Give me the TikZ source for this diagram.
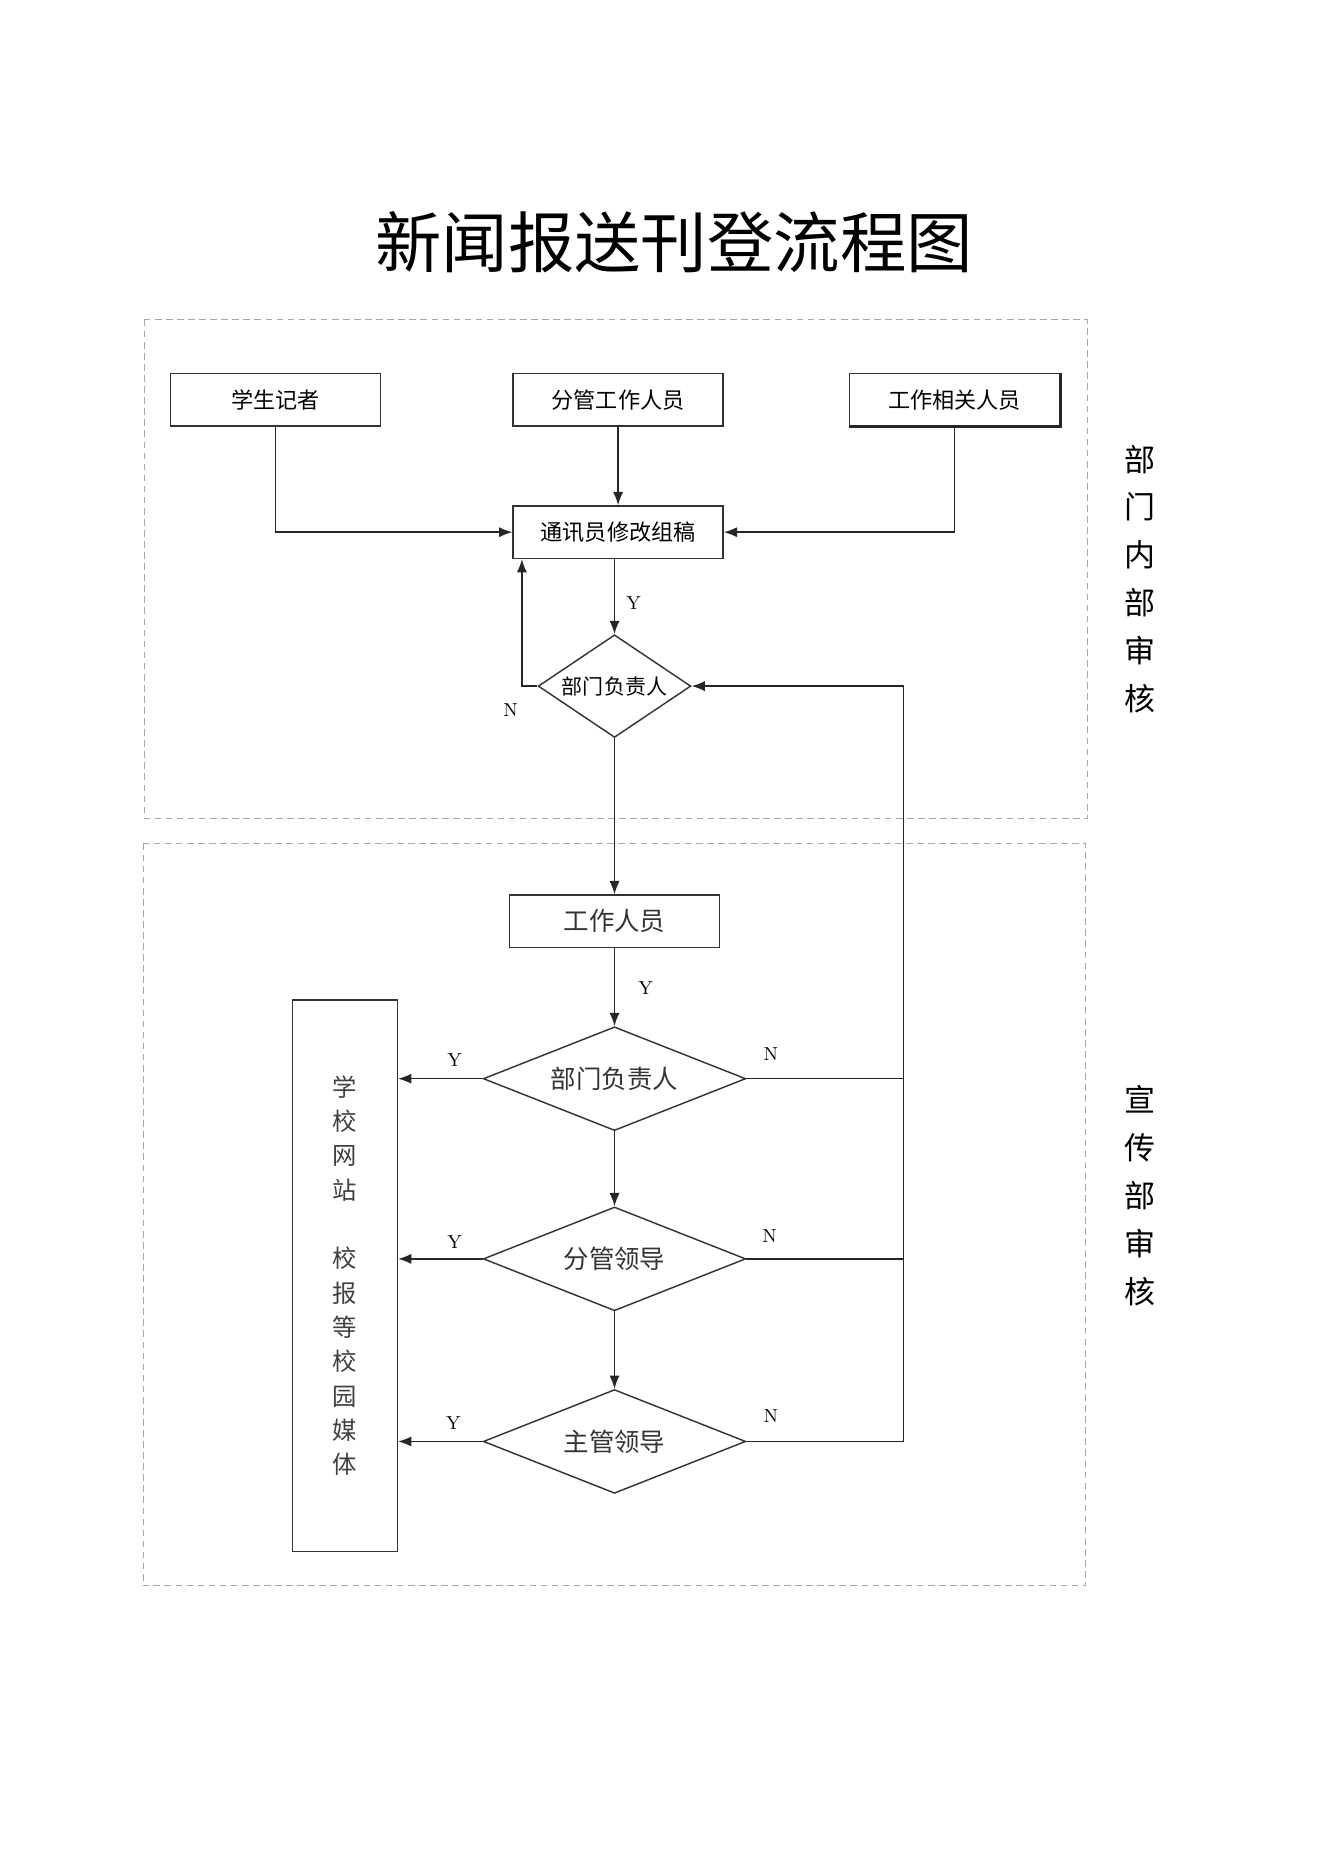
\documentclass[tikz,border=0pt]{standalone}
\usepackage{fontspec}
\newfontfamily\cjk{Noto Sans CJK SC}
\usetikzlibrary{shapes.geometric,arrows.meta}

\begin{document}
\begin{tikzpicture}[
  x=0.018953cm, y=-0.018953cm,
  line width=0.65pt,
  >={Latex[length=6pt,width=4.6pt]},
  rolebox/.style={draw=black!80, font=\cjk\fontsize{10}{12}\selectfont, minimum width=94.9pt, minimum height=23.7pt, inner sep=1pt},
  checkbox/.style={draw=black!80, diamond, aspect=2, inner sep=1pt, font=\cjk\fontsize{11.5}{14}\selectfont, text=black!80, minimum width=118.6pt, minimum height=46.9pt},
  yn/.style={font=\fontsize{8.5}{10}\selectfont},
  dashframe/.style={draw=black!35, dash pattern=on 3pt off 2pt, line width=0.5pt},
  sidetext/.style={font=\cjk\fontsize{14}{21.6}\selectfont, align=center},
  conn/.style={draw=black!85, ->},
]
\path[use as bounding box] (0,0) rectangle (1108,1568);

% title and the two review areas
\node[font=\cjk\fontsize{30}{36}\selectfont] (title) at (565,203) {新闻报送刊登流程图};

\draw[dashframe] (121,268) rectangle (911,686);
\draw[dashframe] (120,707) rectangle (910,1329);

\node[sidetext] (inner) at (955,485) {部\\门\\内\\部\\审\\核};
\node[sidetext] (pub) at (955,1002) {宣\\传\\部\\审\\核};

% department stage
\node[rolebox] (stu) at (231,335) {学生记者};
\node[rolebox] (mgr) at (518,335) {分管工作人员};
\node[rolebox] (rel) at (800,335) {工作相关人员};
\draw[line width=1.2pt, black!85] (rel.north east) -- (rel.south east) -- (rel.south west);
\node[rolebox] (edit) at (518,446) {通讯员修改组稿};
\node[checkbox, aspect=1.5, inner sep=0pt, minimum width=69pt, minimum height=46.4pt,
  font=\cjk\fontsize{9.5}{11}\selectfont, text=black] (head1) at (515,575) {部门负责人};

% publicity stage
\node[rolebox, font=\cjk\fontsize{11.5}{14}\selectfont, text=black!80] (staff) at (515,772) {工作人员};
\node[checkbox] (head2) at (515,904) {部门负责人};
\node[checkbox] (lead1) at (515,1055) {分管领导};
\node[checkbox] (lead2) at (515,1208) {主管领导};
\node[draw=black!80, minimum width=47.5pt, minimum height=249.2pt, align=center,
  font=\cjk\fontsize{11}{15.5}\selectfont, text=black!75] (media) at (289,1069)
  {学\\校\\网\\站\\[15.5pt]校\\报\\等\\校\\园\\媒\\体};

% connectors
\draw[conn] (stu.south) |- (edit.west);
\draw[conn] (rel.south) |- (edit.east);
\draw[conn] (mgr.south) -- (edit.north);
\draw[conn] (head1.north |- edit.south) -- (head1.north);
\draw[conn] (head1.west) -| ([xshift=4.3pt]edit.south west);
\draw[conn] (head1.south) -- (staff.north);
\draw[conn] (staff.south) -- (head2.north);
\draw[conn] (head2.south) -- (lead1.north);
\draw[conn] (lead1.south) -- (lead2.north);

\coordinate (back) at (757,1208);
\draw[conn] (lead2.east) -- (back) |- (head1.east);
\draw[black!85] (head2.east) -- (head2.east -| back);
\draw[black!85] (lead1.east) -- (lead1.east -| back);

\draw[conn] (head2.west) -- (head2.west -| media.east);
\draw[conn] (lead1.west) -- (lead1.west -| media.east);
\draw[conn] (lead2.west) -- (lead2.west -| media.east);

% Y / N marks
\node[yn] (y1) at (531,505) {Y};
\node[yn] (n1) at (428,595) {N};
\node[yn] (y2) at (541,828) {Y};
\node[yn] (y3) at (381,888) {Y};
\node[yn] (n3) at (646,883) {N};
\node[yn] (y4) at (381,1041) {Y};
\node[yn] (n4) at (645,1036) {N};
\node[yn] (y5) at (380,1193) {Y};
\node[yn] (n5) at (646,1187) {N};
\end{tikzpicture}
\end{document}
